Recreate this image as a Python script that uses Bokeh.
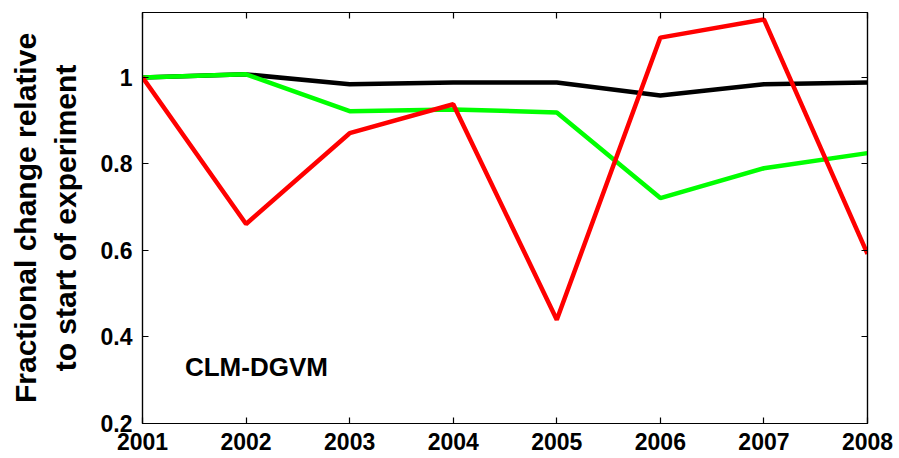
from bokeh.plotting import figure
from bokeh.models import LinearAxis, FixedTicker, CustomJSTickFormatter, Label
from bokeh.embed import file_html
from bokeh.resources import INLINE

years = [2001, 2002, 2003, 2004, 2005, 2006, 2007, 2008]
black_vals = [1.0, 1.007, 0.984, 0.988, 0.988, 0.958, 0.984, 0.988]
green_vals = [1.0, 1.007, 0.922, 0.926, 0.919, 0.721, 0.790, 0.825]
red_vals = [1.0, 0.661, 0.871, 0.938, 0.440, 1.092, 1.134, 0.592]
y_ticks = [0.2, 0.4, 0.6, 0.8, 1.0]
x_ticks = years
panel_label = "CLM-DGVM"
y_label = "Fractional change relative\nto start of experiment"

FONT = "Liberation Sans"

p = figure(width=899, height=458, output_backend="svg", toolbar_location=None,
           x_range=(2001, 2008), y_range=(0.2, 1.15),
           min_border_left=142, min_border_right=32, min_border_top=12,
           min_border_bottom=35, x_axis_location=None, y_axis_location=None)
p.grid.visible = False
p.outline_line_color = "black"
p.outline_line_width = 1.2
p.background_fill_color = "white"
p.border_fill_color = "white"

fmt = CustomJSTickFormatter(code="return tick.toFixed(1).replace(/\\.0$/, '');")
blank = CustomJSTickFormatter(code="return '';")

def mk_axis(ticks, labels=True, fmt_=None):
    ax = LinearAxis(ticker=FixedTicker(ticks=ticks))
    ax.major_tick_in = 6
    ax.major_tick_out = 0
    ax.minor_tick_in = 0
    ax.minor_tick_out = 0
    ax.axis_line_color = "black"
    ax.axis_line_width = 1.2
    ax.major_tick_line_width = 1.2
    ax.major_label_text_font = FONT
    ax.major_label_text_font_style = "bold"
    ax.major_label_text_font_size = "23px"
    ax.major_label_text_color = "black"
    if labels:
        if fmt_ is not None:
            ax.formatter = fmt_
    else:
        ax.formatter = blank
        ax.major_label_standoff = 0
    return ax

xb = mk_axis(x_ticks)
xb.major_label_standoff = 9
p.add_layout(xb, "below")
xt = mk_axis(x_ticks, labels=False)
p.add_layout(xt, "above")

yl = mk_axis(y_ticks, fmt_=fmt)
yl.major_label_standoff = 10
yl.axis_label = y_label
yl.axis_label_text_font = FONT
yl.axis_label_text_font_style = "bold"
yl.axis_label_text_font_size = "30px"
yl.axis_label_text_color = "black"
yl.axis_label_standoff = 16
p.add_layout(yl, "left")
yr = mk_axis(y_ticks, labels=False)
p.add_layout(yr, "right")

p.line(years, black_vals, line_color="black", line_width=4.5)
p.line(years, green_vals, line_color="#00ff00", line_width=4.5)
p.line(years, red_vals, line_color="#ff0000", line_width=4.5)

p.add_layout(Label(x=2001.41, y=0.33, text=panel_label, text_font=FONT,
                   text_font_style="bold", text_font_size="26px",
                   text_baseline="middle", text_align="left", text_color="black"))

open("out.html", "w").write(file_html(p, INLINE))
